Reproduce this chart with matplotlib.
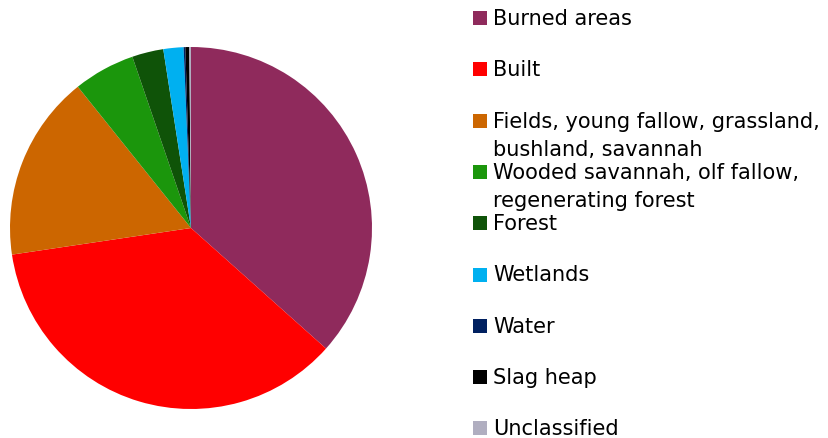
import matplotlib
matplotlib.use("Agg")
import matplotlib.pyplot as plt
from matplotlib.patches import Rectangle

# Land cover shares (%)
categories = [
    "Burned areas",
    "Built",
    "Fields, young fallow, grassland,\nbushland, savannah",
    "Wooded savannah, olf fallow,\nregenerating forest",
    "Forest",
    "Wetlands",
    "Water",
    "Slag heap",
    "Unclassified",
]
shares = [36.6, 36.05, 16.6, 5.5, 2.8, 1.8, 0.15, 0.35, 0.15]
colors = ["#8F2A5C", "#FF0000", "#CC6600", "#1B960C", "#0F5308",
          "#00B0F0", "#002060", "#000000", "#B0AEC0"]

W, H = 829, 439
fig = plt.figure(figsize=(W / 100, H / 100), dpi=100)

cx, cy, r = 191, 229, 181
ax = fig.add_axes([(cx - r) / W, (H - cy - r) / H, 2 * r / W, 2 * r / H])
ax.pie(shares, colors=colors, startangle=90, counterclock=False,
       radius=1, wedgeprops=dict(linewidth=0))
ax.set_xlim(-1, 1)
ax.set_ylim(-1, 1)
ax.set_aspect("equal")
ax.axis("off")

# Legend drawn by hand: fixed row pitch, wrapped labels spill downward
font = dict(family=["DejaVu Sans"], fontsize=15.0, color="black")
row_y0, pitch, line_h = 19, 51.3, 28
for i, (lab, col) in enumerate(zip(categories, colors)):
    y = row_y0 + i * pitch
    fig.patches.append(Rectangle(((473) / W, (H - y - 7) / H), 14 / W, 14 / H,
                                 transform=fig.transFigure, facecolor=col,
                                 edgecolor="none"))
    for j, line in enumerate(lab.split("\n")):
        fig.text(493.5 / W, (H - y - j * line_h) / H, line, va="center",
                 ha="left", **font)

fig.savefig("out.png", dpi=100)
